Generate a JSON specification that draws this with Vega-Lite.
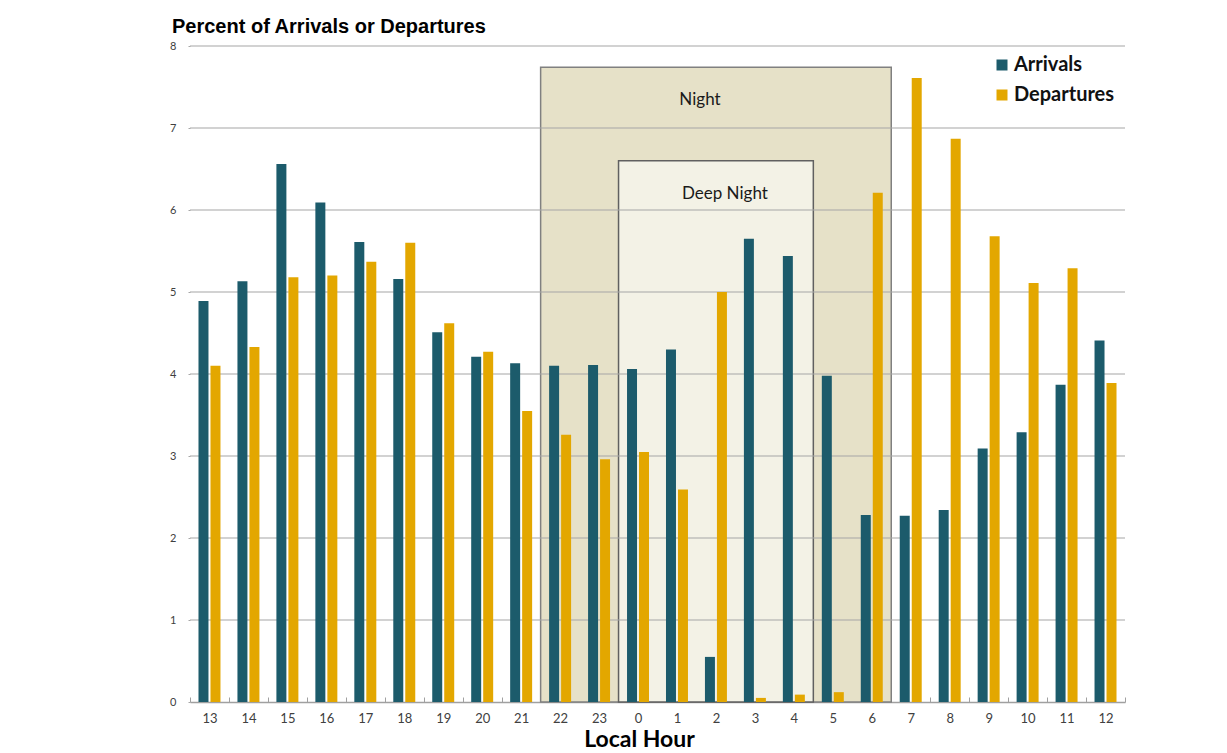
{
  "$schema": "https://vega.github.io/schema/vega-lite/v6.json",
  "autosize": "none",
  "width": 935,
  "height": 656,
  "padding": {"left": 190, "top": 46, "right": 102, "bottom": 51},
  "background": "white",
  "config": {
    "view": {"stroke": null},
    "font": "Lato",
    "axisY": {
      "grid": false, "domain": false, "ticks": true, "tickSize": 2, "tickColor": "#a6a6a6",
      "labelFont": "Lato", "labelFontSize": 11, "labelColor": "#404040", "labelPadding": 12
    }
  },
  "title": {
    "text": "Percent of Arrivals or Departures",
    "anchor": "start",
    "frame": "group",
    "dx": -18,
    "dy": 22,
    "offset": 9,
    "baseline": "alphabetic",
    "font": "Liberation Sans",
    "fontSize": 20,
    "fontWeight": "bold",
    "color": "#000000"
  },
  "datasets": {
    "bars": [
      {"hour": "13", "type": "Arrivals", "pct": 4.89}, {"hour": "13", "type": "Departures", "pct": 4.10},
      {"hour": "14", "type": "Arrivals", "pct": 5.13}, {"hour": "14", "type": "Departures", "pct": 4.33},
      {"hour": "15", "type": "Arrivals", "pct": 6.56}, {"hour": "15", "type": "Departures", "pct": 5.18},
      {"hour": "16", "type": "Arrivals", "pct": 6.09}, {"hour": "16", "type": "Departures", "pct": 5.20},
      {"hour": "17", "type": "Arrivals", "pct": 5.61}, {"hour": "17", "type": "Departures", "pct": 5.37},
      {"hour": "18", "type": "Arrivals", "pct": 5.16}, {"hour": "18", "type": "Departures", "pct": 5.60},
      {"hour": "19", "type": "Arrivals", "pct": 4.51}, {"hour": "19", "type": "Departures", "pct": 4.62},
      {"hour": "20", "type": "Arrivals", "pct": 4.21}, {"hour": "20", "type": "Departures", "pct": 4.27},
      {"hour": "21", "type": "Arrivals", "pct": 4.13}, {"hour": "21", "type": "Departures", "pct": 3.55},
      {"hour": "22", "type": "Arrivals", "pct": 4.10}, {"hour": "22", "type": "Departures", "pct": 3.26},
      {"hour": "23", "type": "Arrivals", "pct": 4.11}, {"hour": "23", "type": "Departures", "pct": 2.96},
      {"hour": "0", "type": "Arrivals", "pct": 4.06}, {"hour": "0", "type": "Departures", "pct": 3.05},
      {"hour": "1", "type": "Arrivals", "pct": 4.30}, {"hour": "1", "type": "Departures", "pct": 2.59},
      {"hour": "2", "type": "Arrivals", "pct": 0.55}, {"hour": "2", "type": "Departures", "pct": 5.00},
      {"hour": "3", "type": "Arrivals", "pct": 5.65}, {"hour": "3", "type": "Departures", "pct": 0.05},
      {"hour": "4", "type": "Arrivals", "pct": 5.44}, {"hour": "4", "type": "Departures", "pct": 0.09},
      {"hour": "5", "type": "Arrivals", "pct": 3.98}, {"hour": "5", "type": "Departures", "pct": 0.12},
      {"hour": "6", "type": "Arrivals", "pct": 2.28}, {"hour": "6", "type": "Departures", "pct": 6.21},
      {"hour": "7", "type": "Arrivals", "pct": 2.27}, {"hour": "7", "type": "Departures", "pct": 7.61},
      {"hour": "8", "type": "Arrivals", "pct": 2.34}, {"hour": "8", "type": "Departures", "pct": 6.87},
      {"hour": "9", "type": "Arrivals", "pct": 3.09}, {"hour": "9", "type": "Departures", "pct": 5.68},
      {"hour": "10", "type": "Arrivals", "pct": 3.29}, {"hour": "10", "type": "Departures", "pct": 5.11},
      {"hour": "11", "type": "Arrivals", "pct": 3.87}, {"hour": "11", "type": "Departures", "pct": 5.29},
      {"hour": "12", "type": "Arrivals", "pct": 4.41}, {"hour": "12", "type": "Departures", "pct": 3.89}
    ],
    "boxes": [
      {"name": "Night", "start": 9, "end": 18, "top": 7.74, "lx": 13.09, "ly": 7.34},
      {"name": "Deep Night", "start": 11, "end": 16, "top": 6.6, "lx": 13.73, "ly": 6.2}
    ],
    "grid": [{"v": 1}, {"v": 2}, {"v": 3}, {"v": 4}, {"v": 5}, {"v": 6}, {"v": 7}, {"v": 8}]
  },
  "resolve": {"scale": {"x": "independent"}},
  "layer": [
    {
      "data": {"name": "boxes"},
      "layer": [
        {
          "mark": {"type": "rect", "strokeWidth": 1.5},
          "encoding": {
            "x": {"field": "start", "type": "quantitative", "scale": {"domain": [0, 24], "nice": false}, "axis": null},
            "x2": {"field": "end"},
            "y": {"field": "top", "type": "quantitative", "title": null},
            "y2": {"datum": 0},
            "fill": {"field": "name", "type": "nominal", "scale": {"domain": ["Night", "Deep Night"], "range": ["#e6e1c8", "#f3f2e6"]}, "legend": null},
            "stroke": {"field": "name", "type": "nominal", "scale": {"domain": ["Night", "Deep Night"], "range": ["#808080", "#606060"]}, "legend": null}
          }
        },
        {
          "mark": {"type": "text", "font": "Lato", "fontSize": 17, "color": "#1a1a1a", "align": "center", "baseline": "middle"},
          "encoding": {
            "x": {"field": "lx", "type": "quantitative", "scale": {"domain": [0, 24], "nice": false}, "axis": null},
            "y": {"field": "ly", "type": "quantitative", "title": null},
            "text": {"field": "name"}
          }
        }
      ]
    },
    {
      "data": {"name": "grid"},
      "mark": {"type": "rule", "color": "#a6a6a6", "strokeWidth": 1.2},
      "encoding": {
        "y": {"field": "v", "type": "quantitative", "title": null}
      }
    },
    {
      "data": {"name": "bars"},
      "mark": {"type": "bar"},
      "encoding": {
        "x": {
          "field": "hour", "type": "nominal",
          "sort": ["13","14","15","16","17","18","19","20","21","22","23","0","1","2","3","4","5","6","7","8","9","10","11","12"],
          "scale": {"paddingInner": 0, "paddingOuter": 0},
          "axis": {
            "title": "Local Hour", "titleFont": "Lato", "titleFontSize": 23, "titleFontWeight": "bold", "titleColor": "#000000",
            "titleX": 449, "titleY": 44, "titleAlign": "center", "titleBaseline": "alphabetic", "titleAnchor": null,
            "labelAngle": 0, "labelFont": "Lato", "labelFontSize": 13, "labelColor": "#404040", "labelPadding": 15,
            "tickBand": "extent", "tickSize": -5, "tickColor": "#a0a0a0", "domainColor": "#a0a0a0", "domainWidth": 1.5, "grid": false
          }
        },
        "xOffset": {"field": "type", "type": "nominal", "sort": ["Arrivals", "Departures"], "scale": {"paddingInner": 0.167, "paddingOuter": 0.708}},
        "y": {
          "field": "pct", "type": "quantitative", "scale": {"domain": [0, 8], "nice": false},
          "title": null,
          "axis": {"values": [0,1,2,3,4,5,6,7,8], "format": "d"}
        },
        "color": {
          "field": "type", "type": "nominal",
          "scale": {"domain": ["Arrivals", "Departures"], "range": ["#1c5b6b", "#e3a700"]},
          "legend": {
            "title": null, "orient": "none", "legendX": 802, "legendY": 9,
            "symbolType": "square", "symbolSize": 121, "symbolStrokeWidth": 0,
            "labelFont": "Lato", "labelFontSize": 20, "labelFontWeight": "bold", "labelColor": "#111111",
            "labelOffset": 2, "rowPadding": 10
          }
        }
      }
    }
  ]
}
